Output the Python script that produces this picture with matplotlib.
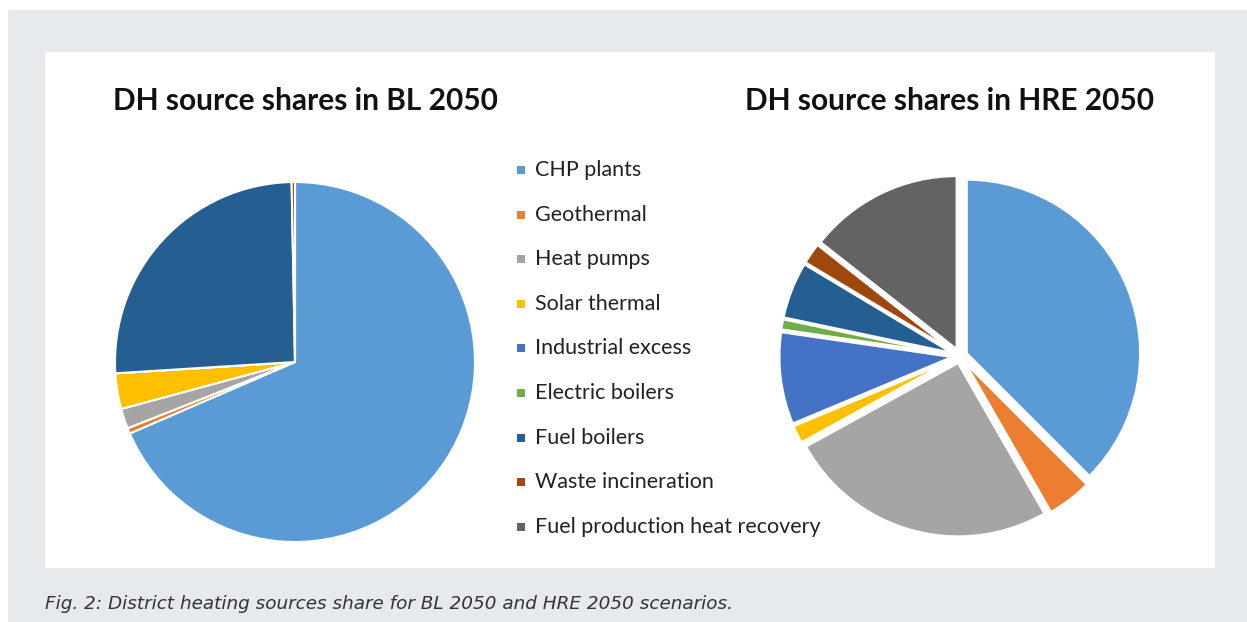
import matplotlib
matplotlib.use("Agg")
import matplotlib.pyplot as plt
from matplotlib.patches import Rectangle

categories = ["CHP plants", "Geothermal", "Heat pumps", "Solar thermal",
              "Industrial excess", "Electric boilers", "Fuel boilers",
              "Waste incineration", "Fuel production heat recovery"]
colors = ["#5B9BD5", "#ED7D31", "#A5A5A5", "#FFC000", "#4472C4",
          "#70AD47", "#255E91", "#9E480E", "#636363"]
bl_2050 = [68.5, 0.5, 1.8, 3.2, 0.0, 0.0, 25.7, 0.3, 0.0]
hre_2050 = [37.5, 4.2, 25.3, 1.7, 8.6, 1.0, 5.3, 2.0, 14.4]
titles = ["DH source shares in BL 2050", "DH source shares in HRE 2050"]
caption = "Fig. 2: District heating sources share for BL 2050 and HRE 2050 scenarios."

W, H = 1247, 622
fig = plt.figure(figsize=(W / 100, H / 100), dpi=100)
fig.patch.set_facecolor("white")

def px_rect(x0, y0, x1, y1, color, z):
    fig.patches.append(Rectangle((x0 / W, 1 - y1 / H), (x1 - x0) / W, (y1 - y0) / H,
                                 transform=fig.transFigure, facecolor=color,
                                 edgecolor="none", zorder=z))

px_rect(8, 10, W, H, "#E6EAED", 0)
px_rect(45, 52, 1215, 568, "white", 1)

def pie_axes(cx, cy, r, lim):
    size = 2 * r * lim
    ax = fig.add_axes([(cx - size / 2) / W, 1 - (cy + size / 2) / H, size / W, size / H])
    ax.set_zorder(2)
    return ax

def finish(ax, lim):
    ax.set_xlim(-lim, lim)
    ax.set_ylim(-lim, lim)
    ax.set_axis_off()

ax1 = pie_axes(295, 362, 180, 1.0)
ax1.pie(bl_2050, colors=colors, startangle=90, counterclock=False, radius=1,
        wedgeprops=dict(edgecolor="white", linewidth=1.5))
finish(ax1, 1.0)

ax2 = pie_axes(960, 356, 174, 1.06)
ax2.pie(hre_2050, colors=colors, startangle=90, counterclock=False, radius=1,
        explode=[0.04] * len(hre_2050),
        wedgeprops=dict(edgecolor="white", linewidth=2))
finish(ax2, 1.06)

title_font = dict(family=["Lato", "DejaVu Sans"], fontweight="bold", fontsize=21.5, color="#111111")
fig.text(113 / W, 1 - 101 / H, titles[0], ha="left", va="center", **title_font, zorder=3)
fig.text(745 / W, 1 - 101 / H, titles[1], ha="left", va="center", **title_font, zorder=3)

y0, dy = 170, 44.6
for i, (lab, col) in enumerate(zip(categories, colors)):
    y = y0 + i * dy
    px_rect(517, y - 4, 525, y + 4, col, 3)
    fig.text(535 / W, 1 - y / H, lab, ha="left", va="center",
             family=["Lato", "DejaVu Sans"], fontsize=15.5, color="#222222", zorder=3)

fig.text(45 / W, 1 - 604 / H, caption, ha="left", va="center", style="italic",
         family=["DejaVu Sans"], fontsize=13.2, color="#333333", zorder=3)

fig.savefig("out.png", dpi=100, facecolor="white")
